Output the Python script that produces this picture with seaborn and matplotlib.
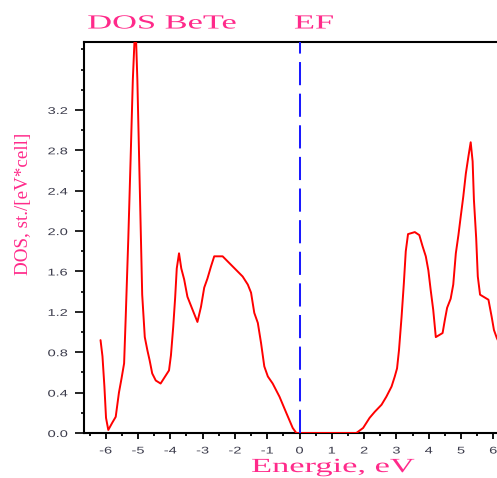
import numpy as np
import pandas as pd
import matplotlib
matplotlib.use("Agg")
import matplotlib.pyplot as plt
import seaborn as sns
from matplotlib.patheffects import AbstractPathEffect
from matplotlib.transforms import Affine2D
from matplotlib.ticker import MultipleLocator, FixedLocator

# ---------------- data ----------------
energy = [-6.16, -6.10, -6.04, -5.99, -5.92, -5.80, -5.69, -5.59, -5.51, -5.43,
          -5.38, -5.30, -5.23, -5.16, -5.08, -5.02, -4.97, -4.92, -4.87, -4.79,
          -4.71, -4.64, -4.56, -4.45, -4.30, -4.16, -4.04, -3.98, -3.91, -3.85,
          -3.80, -3.73, -3.66, -3.57, -3.47, -3.31, -3.16, -3.05, -2.95, -2.85,
          -2.74, -2.64, -2.38, -2.07, -1.76, -1.60, -1.50, -1.40, -1.29, -1.19,
          -1.09, -0.98, -0.83, -0.62, -0.41, -0.21, -0.10, 0.00, 1.76, 1.97,
          2.17, 2.33, 2.54, 2.69, 2.85, 2.95, 3.02, 3.08, 3.16, 3.23,
          3.29, 3.36, 3.57, 3.71, 3.81, 3.91, 3.99, 4.06, 4.14, 4.22,
          4.43, 4.50, 4.57, 4.68, 4.76, 4.84, 4.92, 4.99, 5.07, 5.15,
          5.23, 5.30, 5.36, 5.40, 5.47, 5.52, 5.59, 5.85, 5.95, 6.02,
          6.11, 6.20]
dos = [0.92, 0.76, 0.46, 0.15, 0.03, 0.10, 0.16, 0.40, 0.54, 0.69,
       1.15, 1.93, 2.70, 3.50, 4.10, 3.50, 2.79, 2.08, 1.37, 0.95,
       0.82, 0.72, 0.59, 0.52, 0.49, 0.56, 0.62, 0.77, 1.05, 1.34,
       1.63, 1.78, 1.63, 1.52, 1.35, 1.22, 1.10, 1.25, 1.44, 1.53,
       1.65, 1.75, 1.75, 1.65, 1.55, 1.47, 1.39, 1.19, 1.09, 0.89,
       0.66, 0.56, 0.49, 0.36, 0.20, 0.05, 0.00, 0.00, 0.00, 0.05,
       0.15, 0.21, 0.28, 0.36, 0.46, 0.56, 0.64, 0.82, 1.15, 1.48,
       1.80, 1.97, 1.99, 1.96, 1.85, 1.75, 1.61, 1.42, 1.22, 0.95,
       0.99, 1.12, 1.24, 1.33, 1.47, 1.78, 1.96, 2.14, 2.34, 2.57,
       2.74, 2.88, 2.69, 2.31, 1.93, 1.55, 1.37, 1.32, 1.15, 1.02,
       0.94, 0.88]
fermi_level = 0.0
x_ticks = [-6, -5, -4, -3, -2, -1, 0, 1, 2, 3, 4, 5, 6]
y_ticks = [0.0, 0.4, 0.8, 1.2, 1.6, 2.0, 2.4, 2.8, 3.2]
y_tick_labels = ["0.0", "0.4", "0.8", "1.2", "1.6", "2.0", "2.4", "2.8", "3.2"]
title_left = "DOS BeTe"
title_right = "EF"
x_label = "Energie, eV"
y_label = "DOS, st./[eV*cell]"

assert len(energy) == len(dos)
df = pd.DataFrame({"E": energy, "DOS": dos})


# horizontal stretch of a text's glyphs about its own centre
class HStretch(AbstractPathEffect):
    def __init__(self, sx):
        super().__init__()
        self.sx = sx

    def draw_path(self, renderer, gc, tpath, affine, rgbFace=None):
        ext = tpath.get_extents()
        cx = 0.5 * (ext.x0 + ext.x1)
        t = Affine2D().translate(-cx, 0).scale(self.sx, 1).translate(cx, 0) + affine
        renderer.draw_path(gc, tpath, t, rgbFace)


sns.set_style("ticks")
plt.rcParams["font.family"] = ["Liberation Sans", "DejaVu Sans"]
plt.rcParams["axes.unicode_minus"] = False

W, H = 497, 478
fig = plt.figure(figsize=(W / 100, H / 100), dpi=100)
fig.patch.set_facecolor("white")

x0_px, x_unit = 299.5, 32.3
y0_px, y_unit = 433.0, 100.96
left_px, top_px = 83.5, 42.0
ax = fig.add_axes([left_px / W, (H - y0_px) / H, 1 - left_px / W, (y0_px - top_px) / H])
ax.set_facecolor("white")

sns.lineplot(data=df, x="E", y="DOS", ax=ax, color="#ff0000", lw=1.4,
             sort=False, estimator=None, zorder=3)
ax.axvline(fermi_level, color="#1a1aff", lw=1.45, linestyle=(0, (11.5, 4.2)), zorder=4)

ax.set_xlim((left_px - x0_px) / x_unit, (W - x0_px) / x_unit)
ax.set_ylim(0, (y0_px - top_px) / y_unit)

ax.xaxis.set_major_locator(FixedLocator(x_ticks))
ax.xaxis.set_minor_locator(MultipleLocator(0.5))
ax.yaxis.set_major_locator(FixedLocator(y_ticks))
ax.set_yticklabels(y_tick_labels)
ax.yaxis.set_minor_locator(MultipleLocator(0.2))

tick_color = "#3a3a4a"
ax.tick_params(axis="x", which="major", direction="out", length=4, width=1.3,
               pad=5, labelsize=7, labelcolor=tick_color, color="black")
ax.tick_params(axis="x", which="minor", direction="out", length=2.5, width=1.3,
               color="black")
ax.tick_params(axis="y", which="major", direction="out", length=6.5, width=1.2,
               pad=7.3, labelsize=7, labelcolor=tick_color, color="black")
ax.tick_params(axis="y", which="minor", direction="out", length=2.5, width=1.2,
               color="black")

for side in ["left", "top", "bottom"]:
    ax.spines[side].set_visible(True)
    ax.spines[side].set_linewidth(1.5)
    ax.spines[side].set_color("black")
ax.spines["right"].set_visible(False)
ax.set_xlabel("")
ax.set_ylabel("")

pink = "#ff2a8a"


def fig_text(xpx, ypx, s, **kw):
    return fig.text(xpx / W, 1 - ypx / H, s, **kw)


serif = ["Liberation Serif", "DejaVu Serif"]
t1 = fig_text(162, 28.5, title_left, ha="center", va="baseline", fontsize=14.4,
              color=pink, family=serif)
t2 = fig_text(314, 28.5, title_right, ha="center", va="baseline", fontsize=14.4,
              color=pink, family=serif)
t3 = fig_text(333, 472, x_label, ha="center", va="baseline", fontsize=14.4,
              color=pink, family=serif)
for t in (t1, t2, t3):
    t.set_path_effects([HStretch(1.72)])
fig_text(28.5, 203.5, y_label, ha="center", va="baseline", rotation=90,
         rotation_mode="anchor", fontsize=13.7, color=pink, family=serif)

fig.canvas.draw()
for tk in ax.xaxis.get_major_ticks() + ax.yaxis.get_major_ticks():
    tk.label1.set_path_effects([HStretch(1.5)])

fig.savefig("out.png", dpi=100, facecolor="white")
